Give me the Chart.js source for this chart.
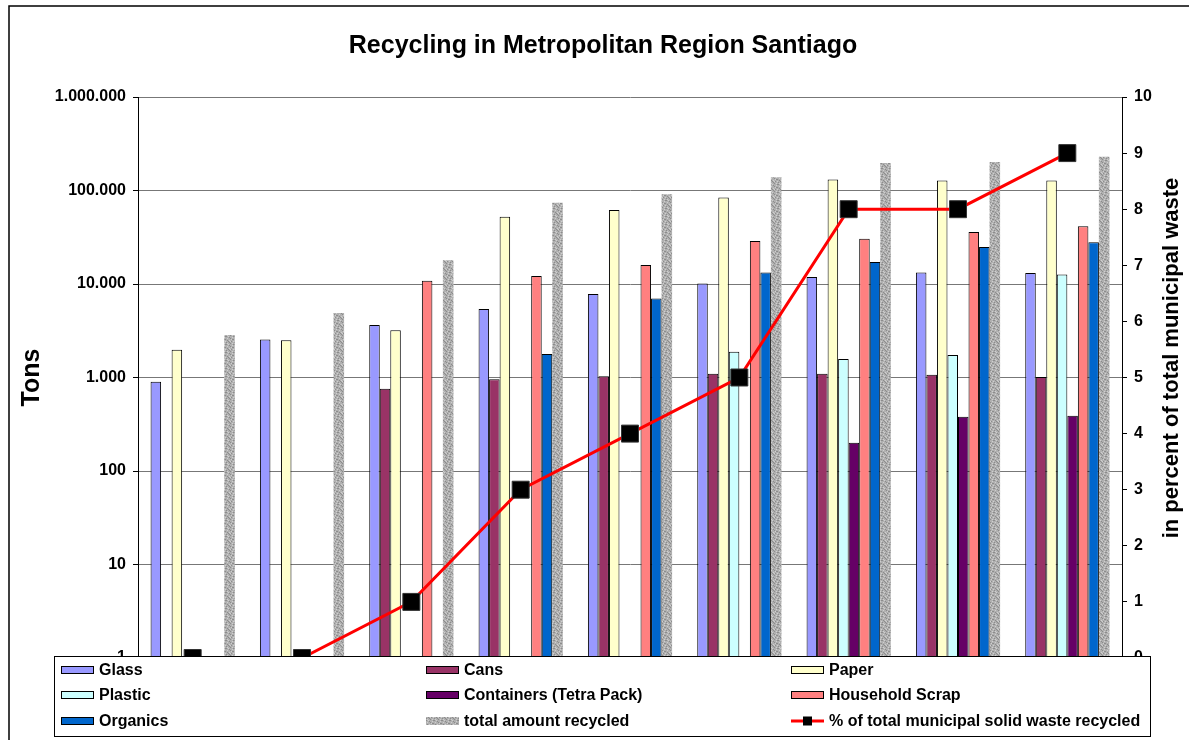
<!DOCTYPE html>
<html>
<head>
<meta charset="utf-8">
<script src="https://cdn.jsdelivr.net/npm/chart.js@4"></script>
<style>
  body { margin: 0; background: #fff; }
</style>
</head>
<body>
<canvas id="recyclingChart" width="1189" height="740"></canvas>
<script>
  // categories (x labels are hidden behind the legend in the original)
  const categories = ['1', '2', '3', '4', '5', '6', '7', '8', '9'];

  // tons recycled per material
  const glass      = [900, 2550, 3650, 5400, 7800, 10100, 11900, 13300, 13100];
  const cans       = [null, null, 760, 960, 1030, 1100, 1100, 1070, 1010];
  const paper      = [1980, 2500, 3200, 52500, 62000, 84000, 131000, 128000, 128000];
  const plastic    = [null, null, null, null, null, 1880, 1580, 1740, 12600];
  const containers = [null, null, null, null, null, null, 200, 380, 390];
  const household  = [null, null, 10800, 12200, 16000, 28800, 30500, 36000, 41500];
  const organics   = [null, null, null, 1780, 7000, 13300, 17200, 24900, 28000];
  const totalTons  = [2850, 4900, 18000, 74000, 91000, 139000, 197000, 202000, 229000];

  // % of total municipal solid waste recycled (right axis)
  const percentRecycled = [0, 0, 1, 3, 4, 5, 8, 8, 9];

  // axis ticks
  const tonTicks = [1, 10, 100, 1000, 10000, 100000, 1000000];

  const FONT = '"Liberation Sans", Arial, sans-serif';
  Chart.defaults.font.family = FONT;
  Chart.defaults.color = '#000';

  const ctx = document.getElementById('recyclingChart').getContext('2d');

  // grey "granite" fill like the excel texture
  function grainPattern() {
    const c = document.createElement('canvas');
    c.width = 8; c.height = 8;
    const g = c.getContext('2d');
    g.fillStyle = '#b0b0b0'; g.fillRect(0, 0, 8, 8);
    g.fillStyle = '#8c8c8c';
    [[1,0],[2,0],[5,1],[6,2],[0,3],[1,3],[3,4],[4,5],[7,5],[2,6],[6,7],[5,6]].forEach(([x, y]) => g.fillRect(x, y, 1, 1));
    g.fillStyle = '#cfcfcf';
    [[4,0],[0,1],[3,2],[7,3],[1,5],[5,4],[3,7],[0,7],[6,5]].forEach(([x, y]) => g.fillRect(x, y, 1, 1));
    return ctx.createPattern(c, 'repeat');
  }
  const grain = grainPattern();

  const fmtDots = v => String(v).replace(/\B(?=(\d{3})+(?!\d))/g, '.');

  // bar series share the same look
  const barSet = (label, data, color) => ({
    label, data, backgroundColor: color,
    borderColor: '#000', borderWidth: 1, yAxisID: 'y', order: 1
  });

  // white background + outer frame
  const framePlugin = {
    id: 'frame',
    beforeDraw(chart) {
      const c = chart.ctx;
      c.save();
      c.fillStyle = '#fff';
      c.fillRect(0, 0, chart.width, chart.height);
      c.strokeStyle = '#000';
      c.lineWidth = 1.5;
      c.strokeRect(9, 6, chart.width + 10, chart.height + 10);
      c.restore();
    }
  };

  // right axis title (reads bottom-to-top) and the legend box over the x axis
  const overlayPlugin = {
    id: 'overlay',
    afterDraw(chart) {
      const c = chart.ctx;
      c.save();
      c.translate(1172, 358);
      c.rotate(-Math.PI / 2);
      c.font = 'bold 22px ' + FONT;
      c.fillStyle = '#000';
      c.textAlign = 'center';
      c.textBaseline = 'middle';
      c.fillText('in percent of total municipal waste', 0, 0);
      c.restore();

      // legend
      c.save();
      c.fillStyle = '#fff';
      c.fillRect(54.5, 656.5, 1096, 80);
      c.strokeStyle = '#000';
      c.lineWidth = 1;
      c.strokeRect(54.5, 656.5, 1096, 80);
      const colX = [61, 426, 791];
      const rowY = [670, 695, 721];
      c.font = 'bold 16px ' + FONT;
      c.textBaseline = 'middle';
      chart.data.datasets.forEach((ds, i) => {
        const x = colX[i % 3], y = rowY[Math.floor(i / 3)];
        if (ds.type === 'line') {
          c.strokeStyle = ds.borderColor;
          c.lineWidth = 3;
          c.beginPath(); c.moveTo(x, y); c.lineTo(x + 33, y); c.stroke();
          c.fillStyle = '#000';
          c.fillRect(x + 12, y - 4.5, 9, 9);
        } else {
          c.fillStyle = ds.backgroundColor;
          c.fillRect(x, y - 4, 33, 8);
          if (ds.borderWidth) {
            c.strokeStyle = '#000';
            c.lineWidth = 1;
            c.strokeRect(x + 0.5, y - 3.5, 32, 7);
          }
        }
        c.fillStyle = '#000';
        c.fillText(ds.label, x + 38, y + 1);
      });
      c.restore();
    }
  };

  new Chart(ctx, {
    type: 'bar',
    data: {
      labels: categories,
      datasets: [
        barSet('Glass', glass, '#9999ff'),
        barSet('Cans', cans, '#993366'),
        barSet('Paper', paper, '#ffffcc'),
        barSet('Plastic', plastic, '#ccffff'),
        barSet('Containers (Tetra Pack)', containers, '#660066'),
        barSet('Household Scrap', household, '#ff8080'),
        barSet('Organics', organics, '#0066cc'),
        { ...barSet('total amount recycled', totalTons, grain), borderWidth: 0 },
        {
          type: 'line',
          label: '% of total municipal solid waste recycled',
          data: percentRecycled,
          yAxisID: 'y1',
          borderColor: '#ff0000',
          borderWidth: 3,
          tension: 0,
          pointStyle: 'rect',
          pointRadius: 12,
          pointBackgroundColor: '#000',
          pointBorderColor: '#333',
          pointBorderWidth: 1,
          order: 0,
          clip: false
        }
      ]
    },
    options: {
      responsive: false,
      animation: false,
      layout: { padding: { left: 17, right: 0, top: 0, bottom: 82 } },
      datasets: {
        bar: { barPercentage: 1, categoryPercentage: 0.77 }
      },
      plugins: {
        legend: { display: false },
        tooltip: { enabled: false },
        title: {
          display: true,
          text: 'Recycling in Metropolitan Region Santiago',
          color: '#000',
          font: { size: 25, weight: 'bold' },
          padding: { top: 31, bottom: 36 }
        }
      },
      scales: {
        x: { display: false, offset: true, grid: { display: false } },
        y: {
          type: 'logarithmic',
          position: 'left',
          min: 1,
          max: 1000000,
          afterBuildTicks: s => { s.ticks = tonTicks.map(v => ({ value: v })); },
          afterFit: s => { s.width = 121; },
          ticks: {
            callback: v => fmtDots(v),
            font: { size: 16, weight: 'bold' },
            color: '#000',
            padding: 7,
            autoSkip: false
          },
          grid: { color: '#777', tickColor: '#000', tickLength: 5, lineWidth: 1 },
          border: { color: '#000', width: 1 },
          title: {
            display: true,
            text: 'Tons',
            color: '#000',
            font: { size: 25, weight: 'bold' },
            padding: 0
          }
        },
        y1: {
          type: 'linear',
          position: 'right',
          min: 0,
          max: 10,
          afterFit: s => { s.width = 67; },
          ticks: {
            stepSize: 1,
            font: { size: 16, weight: 'bold' },
            color: '#000',
            padding: 7
          },
          grid: { drawOnChartArea: false, tickColor: '#000', tickLength: 5 },
          border: { color: '#000', width: 1 }
        }
      }
    },
    plugins: [framePlugin, overlayPlugin]
  });
</script>
</body>
</html>
